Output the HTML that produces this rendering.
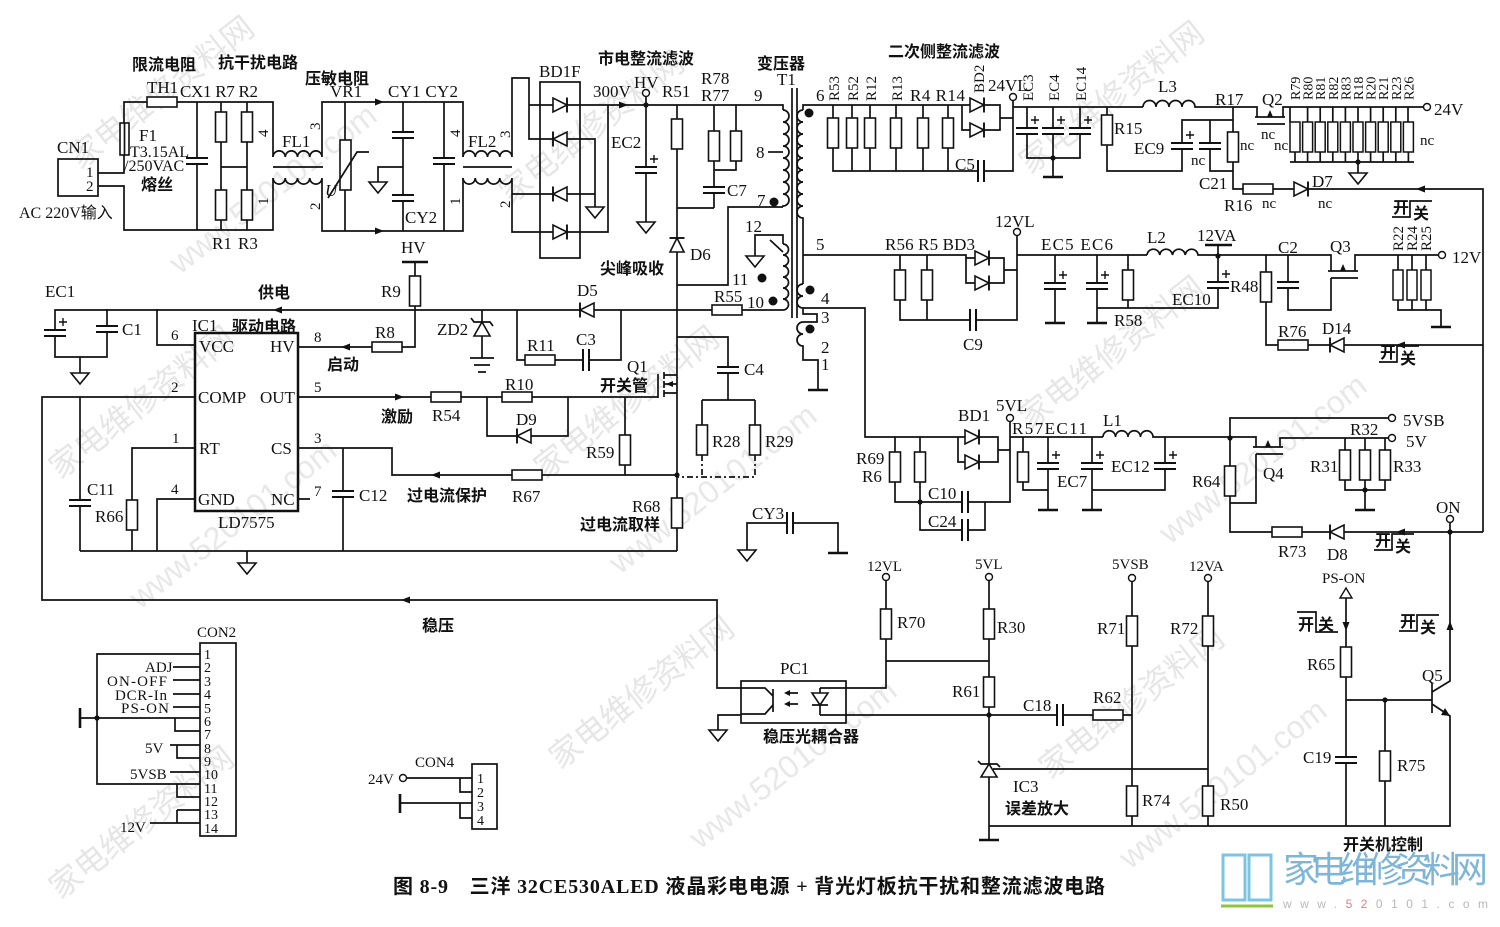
<!DOCTYPE html>
<html><head><meta charset="utf-8"><style>
html,body{margin:0;padding:0;background:#fff}
svg{display:block}
text{font-family:"Liberation Serif","Noto Sans CJK SC",serif;font-size:17px;fill:#111}
.c{font-family:"Liberation Serif","Noto Sans CJK SC",sans-serif;font-weight:700;font-size:16px}
.s{font-size:15px}
.w{fill:none;stroke:#111;stroke-width:1.7}
.wm{font-family:"Noto Sans CJK SC",sans-serif;font-size:32px;fill:#e6e6e6}
.wm2{font-family:"Liberation Sans",sans-serif;font-size:32px;fill:#e8e8e8}
</style></head><body>
<svg width="1500" height="927" viewBox="0 0 1500 927" xmlns="http://www.w3.org/2000/svg">
<defs>
<g id="rv"><rect x="-5.5" y="-15" width="11" height="30" fill="#fff" stroke="#111" stroke-width="1.6"/></g>
<g id="rh"><rect x="-15" y="-5" width="30" height="10" fill="#fff" stroke="#111" stroke-width="1.6"/></g>
<g id="cv"><rect x="-11" y="-3" width="22" height="6" fill="#fff"/><path d="M-11,-3H11M-11,3H11" stroke="#111" stroke-width="2"/></g>
<g id="ch"><rect x="-3" y="-11" width="6" height="22" fill="#fff"/><path d="M-3,-11V11M3,-11V11" stroke="#111" stroke-width="2"/></g>
<g id="ec"><rect x="-11" y="-3" width="22" height="6" fill="#fff"/><path d="M-11,-3H11M-11,3H11" stroke="#111" stroke-width="2"/><path d="M4,-11h8M8,-15v8" stroke="#111" stroke-width="1.4"/></g>
<g id="dr"><path d="M-7,-7V7L7,0Z" fill="#fff" stroke="#111" stroke-width="1.6"/><path d="M7,-7.5V7.5" stroke="#111" stroke-width="1.9"/></g>
<g id="gt"><path d="M-9,0H9L0,11Z" fill="#fff" stroke="#111" stroke-width="1.6"/></g>
<g id="gb"><path d="M-10,0H10" stroke="#111" stroke-width="2.6"/></g>
<g id="nd"><circle r="3.5" fill="#fff" stroke="#111" stroke-width="1.4"/></g>
<g id="dt"><circle r="2.6" fill="#111"/></g>
<g id="bd"><circle r="4.5" fill="#111"/></g>
<g id="ar"><path d="M-5,-3.5L4,0L-5,3.5Z" fill="#111"/></g>
</defs>

<!-- watermarks -->
<g>
<text class="wm" transform="translate(60,480) rotate(-38)">家电维修资料网</text>
<text class="wm2" transform="translate(140,610) rotate(-38)">www.520101.com</text>
<text class="wm" transform="translate(545,480) rotate(-38)">家电维修资料网</text>
<text class="wm2" transform="translate(620,575) rotate(-38)">www.520101.com</text>
<text class="wm" transform="translate(1030,430) rotate(-38)">家电维修资料网</text>
<text class="wm2" transform="translate(1170,545) rotate(-38)">www.520101.com</text>
<text class="wm" transform="translate(560,770) rotate(-38)">家电维修资料网</text>
<text class="wm2" transform="translate(700,850) rotate(-38)">www.520101.com</text>
<text class="wm" transform="translate(1050,780) rotate(-38)">家电维修资料网</text>
<text class="wm2" transform="translate(1130,870) rotate(-38)">www.520101.com</text>
<text class="wm" transform="translate(510,205) rotate(-38)">家电维修资料网</text>
<text class="wm" transform="translate(1030,175) rotate(-38)">家电维修资料网</text>
<text class="wm2" transform="translate(180,275) rotate(-38)">www.520101.com</text>
<text class="wm" transform="translate(80,170) rotate(-38)">家电维修资料网</text>
<text class="wm" transform="translate(60,900) rotate(-38)">家电维修资料网</text>
</g>

<!-- ===== INPUT SECTION ===== -->
<rect x="58" y="159" width="40" height="37" class="w"/>
<path class="w" d="M98,173H124V102H273V157M98,186H124V230H273V178"/>
<rect x="120" y="123" width="9" height="32" fill="#fff" stroke="#111" stroke-width="1.6"/>
<path class="w" d="M124.5,123V155"/>
<rect x="147" y="97" width="30" height="10" fill="#fff" stroke="#111" stroke-width="1.6"/>
<path class="w" d="M197,102V230M221,102V230M247,102V230M221,167H247"/>
<use href="#cv" x="197" y="161"/>
<use href="#rv" x="221" y="127"/><use href="#rv" x="221" y="205"/>
<use href="#rv" x="247" y="127"/><use href="#rv" x="247" y="205"/>
<!-- FL1 -->
<path class="w" d="M273,157a6.1,6.1 0 0 1 12.25,0a6.1,6.1 0 0 1 12.25,0a6.1,6.1 0 0 1 12.25,0a6.1,6.1 0 0 1 12.25,0V102H463V157"/>
<path class="w" d="M273,178a6.1,6.1 0 0 0 12.25,0a6.1,6.1 0 0 0 12.25,0a6.1,6.1 0 0 0 12.25,0a6.1,6.1 0 0 0 12.25,0V231H463V178"/>
<path class="w" d="M273,167H323" stroke-width="2"/>
<!-- VR1 -->
<path class="w" d="M345,102V231"/>
<rect x="340" y="140" width="11" height="50" fill="#fff" stroke="#111" stroke-width="1.6"/>
<path class="w" d="M328,198L357,152H369"/>
<!-- CY1 CY2 -->
<path class="w" d="M403,102V231M403,167H378V182M444,102V231"/>
<use href="#cv" x="403" y="135"/><use href="#cv" x="403" y="198"/><use href="#gt" x="378" y="182"/>
<use href="#cv" x="444" y="161"/>
<use href="#ar" x="380" y="102"/><use href="#ar" x="380" y="231"/>
<!-- FL2 -->
<path class="w" d="M463,157a6.1,6.1 0 0 1 12.25,0a6.1,6.1 0 0 1 12.25,0a6.1,6.1 0 0 1 12.25,0a6.1,6.1 0 0 1 12.25,0V78H529V139H595V207"/>
<path class="w" d="M463,178a6.1,6.1 0 0 0 12.25,0a6.1,6.1 0 0 0 12.25,0a6.1,6.1 0 0 0 12.25,0a6.1,6.1 0 0 0 12.25,0V232H608V105"/>
<path class="w" d="M463,167H512" stroke-width="2"/>
<path class="w" d="M512,194H595M529,105H778H783V110"/>
<rect x="540" y="82" width="40" height="176" class="w"/>
<use href="#dr" x="560" y="105"/>
<use href="#dr" transform="translate(560,139) rotate(180)"/>
<use href="#dr" transform="translate(560,194) rotate(180)"/>
<use href="#dr" x="560" y="232"/>
<use href="#gt" x="595" y="207"/>
<!-- EC2 HV -->
<path class="w" d="M646,96V222"/>
<use href="#ec" x="646" y="170"/><use href="#gt" x="646" y="222"/>
<use href="#nd" x="646" y="93"/><use href="#dt" x="646" y="105"/>
<use href="#ar" x="624" y="105"/>
<!-- R51 D6 R78 R77 C7 -->
<path class="w" d="M677,105V551M677,208H714M714,105V208M736,105V170H714M783,207H728V285H677"/>
<use href="#rv" x="677" y="134"/>
<use href="#dr" transform="translate(677,245) rotate(-90)"/>
<use href="#rv" x="714" y="146"/><use href="#rv" x="736" y="146"/>
<use href="#cv" x="714" y="190"/>
<!-- Transformer primary -->
<path class="w" d="M783,110a6,6 0 0 1 0,12a6,6 0 0 1 0,12a6,6 0 0 1 0,12a6,6 0 0 1 0,12a6,6 0 0 1 0,12a6,6 0 0 1 0,12a6,6 0 0 1 0,12a6,6 0 0 1 0,12V207"/>
<path class="w" d="M768,152H783"/>
<use href="#bd" x="774" y="202"/>
<path class="w" d="M792,88V318M797,88V318" stroke-width="1.9"/>
<!-- aux winding -->
<path class="w" d="M783,244V235H755V256"/>
<path class="w" d="M783,244a5.5,5.5 0 0 1 0,11a5.5,5.5 0 0 1 0,11a5.5,5.5 0 0 1 0,11a5.5,5.5 0 0 1 0,11a5.5,5.5 0 0 1 0,11a5.5,5.5 0 0 1 0,11"/>
<path class="w" d="M770,240L783,252"/>
<use href="#gt" x="755" y="256"/>
<use href="#bd" x="762" y="278"/><use href="#bd" x="773" y="301"/>
<!-- supply line -->
<path class="w" d="M783,310H55V357H107V309M80,357V373M195,345H157V309"/>
<use href="#ec" x="55" y="333"/><use href="#cv" x="107" y="329"/><use href="#gt" x="80" y="373"/>
<use href="#ar" transform="translate(277,310) rotate(180)"/>
<use href="#rh" x="727" y="310"/>
<use href="#dr" transform="translate(587,310) rotate(180)"/>
<path class="w" d="M517,310V360H621V310"/>
<use href="#rh" x="540" y="360"/><use href="#ch" x="586" y="360"/>
<!-- R9 R8 -->
<path d="M402,262H428" stroke="#111" stroke-width="2.6"/>
<path class="w" d="M415,262V347H298"/>
<use href="#rv" x="415" y="291"/><use href="#rh" x="387" y="347"/>
<use href="#ar" transform="translate(345,347) rotate(180)"/>
<!-- ZD2 -->
<path class="w" d="M482,310V358M470,358H494M474,365H490M478,372H486"/>
<path d="M474,336H490L482,322Z" fill="#fff" stroke="#111" stroke-width="1.6"/>
<path class="w" d="M471,318L474,322H490L493,326"/>
<!-- IC1 -->
<rect x="195" y="333" width="103" height="178" fill="none" stroke="#111" stroke-width="2.5"/>
<path class="w" d="M195,397H42V600H717V688H741M80,397V551M195,448H132V551M195,499H157V551M80,551H677M247,551V563"/>
<use href="#cv" x="80" y="503"/><use href="#rv" x="132" y="515"/><use href="#gt" x="247" y="563"/>
<path class="w" d="M298,448H392V475H677M343,448V551M298,499H310"/>
<use href="#cv" x="343" y="494"/>
<use href="#ar" transform="translate(435,475) rotate(180)"/>
<use href="#rh" x="527" y="475"/>
<use href="#ar" transform="translate(405,600) rotate(180)"/>
<!-- OUT drive -->
<path class="w" d="M298,397H658M487,397V436H568V397M625,397V475"/>
<use href="#ar" x="400" y="397"/>
<use href="#rh" x="446" y="397"/><use href="#rh" x="517" y="397"/>
<use href="#dr" transform="translate(524,436) rotate(180)"/>
<use href="#rv" x="625" y="450"/>
<!-- Q1 -->
<path class="w" d="M658,374V398" stroke-width="2"/>
<path class="w" d="M664,372V379M664,381V388M664,390V397" stroke-width="2"/>
<path class="w" d="M664,375H677M664,393H677M664,384H677"/>
<path d="M666,384L673,381V387Z" fill="#111"/>
<use href="#dt" x="677" y="475"/>
<use href="#rv" x="677" y="513"/>
<!-- C4 R28 R29 -->
<path class="w" d="M677,337H728V400M702,400H755M702,400V440M755,400V440"/>
<use href="#cv" x="728" y="370"/>
<use href="#rv" x="702" y="440"/><use href="#rv" x="755" y="440"/>
<path class="w" d="M702,455V477M755,455V477H677" stroke-dasharray="6,3,2,3"/>
<!-- CY3 -->
<path class="w" d="M747,550V523H838V553"/>
<use href="#ch" x="790" y="523"/><use href="#gt" x="747" y="550"/><use href="#gb" x="838" y="553"/>

<!-- ===== SECONDARY 24V ===== -->
<path class="w" d="M803,110a6,6 0 0 0 0,12a6,6 0 0 0 0,12a6,6 0 0 0 0,12a6,6 0 0 0 0,12a6,6 0 0 0 0,12a6,6 0 0 0 0,12a6,6 0 0 0 0,12a6,6 0 0 0 0,12a6,6 0 0 0 0,12V284"/>
<path class="w" d="M803,110V105H962V130H970M962,105H970"/>
<use href="#bd" x="809" y="113"/>
<path class="w" d="M833,105V171H977M852,105V171M870,105V171M896,105V171M923,105V171M948,105V171M985,171H1013V101"/>
<use href="#rv" x="833" y="133"/><use href="#rv" x="852" y="133"/><use href="#rv" x="870" y="133"/>
<use href="#rv" x="896" y="133"/><use href="#rv" x="923" y="133"/><use href="#rv" x="948" y="133"/>
<use href="#ch" x="981" y="171"/>
<use href="#dr" x="977" y="105"/><use href="#dr" x="977" y="130"/>
<path class="w" d="M984,105H1000V130H984M1000,118H1013"/>
<use href="#nd" x="1013" y="97"/>
<path class="w" d="M1013,107H1143M1027,107V158H1080V107M1053,107V177"/>
<use href="#ec" x="1027" y="131"/><use href="#ec" x="1053" y="131"/><use href="#ec" x="1080" y="131"/>
<use href="#dt" x="1053" y="158"/><use href="#gb" x="1053" y="177"/>
<path class="w" d="M1107,107V171H1182V120H1233M1210,120V171H1233"/>
<use href="#rv" x="1107" y="130"/><use href="#ec" x="1182" y="146"/><use href="#cv" x="1210" y="146"/>
<path class="w" d="M1143,107a6.5,6.5 0 0 1 13,0a6.5,6.5 0 0 1 13,0a6.5,6.5 0 0 1 13,0a6.5,6.5 0 0 1 13,0H1257V117M1283,117V107H1427"/>
<path class="w" d="M1255,117H1285M1257,124H1285" stroke-width="2"/>
<path d="M1270,110L1267,117H1273Z" fill="#111"/>
<path class="w" d="M1233,107V189H1243M1273,189H1483V532"/>
<use href="#rv" x="1233" y="147"/><use href="#rh" x="1258" y="189"/><use href="#dr" x="1301" y="189"/>
<use href="#ar" transform="translate(1420,189) rotate(180)"/>
<path class="w" d="M1290,107V122M1408,107V122M1290,162H1414M1358,162V173"/>
<g fill="#fff" stroke="#111" stroke-width="1.5">
<rect x="1290" y="122" width="10" height="30"/><rect x="1302.6" y="122" width="10" height="30"/><rect x="1315.2" y="122" width="10" height="30"/><rect x="1327.8" y="122" width="10" height="30"/><rect x="1340.4" y="122" width="10" height="30"/><rect x="1353" y="122" width="10" height="30"/><rect x="1365.6" y="122" width="10" height="30"/><rect x="1378.2" y="122" width="10" height="30"/><rect x="1390.8" y="122" width="10" height="30"/><rect x="1403.4" y="122" width="10" height="30"/>
</g>
<path class="w" d="M1295,152V162M1307.6,152V162M1320.2,152V162M1332.8,152V162M1345.4,152V162M1358,152V162M1370.6,152V162M1383.2,152V162M1395.8,152V162M1408.4,152V162M1307.6,107V122M1320.2,107V122M1332.8,107V122M1345.4,107V122M1358,107V122M1370.6,107V122M1383.2,107V122M1395.8,107V122"/>
<use href="#dt" x="1358" y="162"/><use href="#gt" x="1358" y="173"/>
<use href="#nd" x="1427" y="107"/>

<!-- ===== 12V ===== -->
<path class="w" d="M803,255H966V283H975M966,258H975M900,255V320H970M927,255V320M976,320H1017V236M989,258H1004V283H989M1004,270H1017M1017,255H1147"/>
<use href="#rv" x="900" y="285"/><use href="#rv" x="927" y="285"/>
<use href="#dr" x="982" y="258"/><use href="#dr" x="982" y="283"/>
<use href="#ch" x="973" y="320"/>
<use href="#nd" x="1017" y="232"/>
<path class="w" d="M1055,255V323M1097,255V323M1128,255V308M1097,308H1218V255"/>
<use href="#ec" x="1055" y="286"/><use href="#ec" x="1097" y="286"/><use href="#rv" x="1128" y="285"/>
<use href="#gb" x="1055" y="323"/><use href="#gb" x="1097" y="323"/>
<use href="#ec" x="1218" y="285"/>
<path class="w" d="M1147,255a6.4,6.4 0 0 1 12.75,0a6.4,6.4 0 0 1 12.75,0a6.4,6.4 0 0 1 12.75,0a6.4,6.4 0 0 1 12.75,0H1331V271M1355,271V255H1438"/>
<path d="M1205,245H1232" stroke="#111" stroke-width="2.6"/>
<path class="w" d="M1218,245V255"/><use href="#dt" x="1218" y="256"/>
<path class="w" d="M1266,255V345H1278M1288,255V310H1331V278"/>
<use href="#rv" x="1266" y="287"/><use href="#cv" x="1288" y="285"/>
<path class="w" d="M1328,271H1358M1331,278H1358" stroke-width="2"/>
<path d="M1343,264L1340,271H1346Z" fill="#111"/>
<path class="w" d="M1398,255V310H1441V327M1412,255V310M1426,255V310"/>
<g fill="#fff" stroke="#111" stroke-width="1.5"><rect x="1393" y="270" width="10" height="30"/><rect x="1407" y="270" width="10" height="30"/><rect x="1421" y="270" width="10" height="30"/></g>
<use href="#gb" x="1441" y="327"/>
<use href="#nd" x="1442" y="255"/>
<path class="w" d="M1308,345H1483"/>
<use href="#rh" x="1293" y="345"/>
<use href="#dr" transform="translate(1337,345) rotate(180)"/>
<use href="#ar" transform="translate(1400,345) rotate(180)"/>

<!-- lower secondary -->
<path class="w" d="M803,284a6,6 0 0 0 0,12a6,6 0 0 0 0,12V314H817V322H803"/>
<path class="w" d="M803,322a6,6 0 0 0 0,12a6,6 0 0 0 0,12V360H818V390M803,308H865V437H958"/>
<use href="#bd" x="810" y="290"/><use href="#bd" x="810" y="329"/>
<use href="#gb" x="818" y="390"/>

<!-- ===== 5V ===== -->
<path class="w" d="M895,437V502H962M920,437V530H962M968,502H1010V422M968,530H985V502M958,437V462H965M958,437H965M979,437H998V462H979M998,450H1010M1010,437H1103"/>
<use href="#rv" x="895" y="467"/><use href="#rv" x="920" y="467"/><use href="#dt" x="920" y="502"/>
<use href="#ch" x="965" y="502"/><use href="#ch" x="965" y="530"/>
<use href="#dr" x="972" y="437"/><use href="#dr" x="972" y="462"/>
<use href="#nd" x="1010" y="418"/>
<path class="w" d="M1023,437V490H1048M1048,437V510M1092,437V510M1092,490H1165V437"/>
<use href="#rv" x="1023" y="467"/><use href="#ec" x="1048" y="466"/><use href="#ec" x="1092" y="466"/><use href="#ec" x="1165" y="466"/>
<use href="#gb" x="1048" y="510"/><use href="#gb" x="1092" y="510"/>
<path class="w" d="M1103,437a6.25,6.25 0 0 1 12.5,0a6.25,6.25 0 0 1 12.5,0a6.25,6.25 0 0 1 12.5,0a6.25,6.25 0 0 1 12.5,0H1256V447M1230,438V418H1388M1280,447V438H1388"/>
<use href="#dt" x="1230" y="438"/>
<path class="w" d="M1253,447H1283M1256,454H1283" stroke-width="2"/>
<path d="M1268,440L1265,447H1271Z" fill="#111"/>
<path class="w" d="M1256,454V503H1230M1230,438V532H1272M1302,532H1483"/>
<use href="#rv" x="1230" y="481"/><use href="#rh" x="1287" y="532"/>
<use href="#dr" transform="translate(1337,532) rotate(180)"/>
<use href="#ar" transform="translate(1400,532) rotate(180)"/>
<use href="#nd" x="1392" y="418"/><use href="#nd" x="1392" y="438"/>
<path class="w" d="M1345,438V490H1385V438M1365,438V510"/>
<use href="#rv" x="1345" y="465"/><use href="#rv" x="1365" y="465"/><use href="#rv" x="1385" y="465"/>
<use href="#dt" x="1365" y="490"/><use href="#gb" x="1365" y="510"/>
<path class="w" d="M1450,523V532"/>
<use href="#nd" x="1450" y="519"/><use href="#dt" x="1450" y="532"/>

<!-- ===== Q5 / PS-ON ===== -->
<path class="w" d="M1450,532V681L1432,692M1432,704L1450,716V826H989M1346,598V826M1346,700H1432M1385,700V826"/>
<path class="w" d="M1432,683V713" stroke-width="2.4"/>
<path d="M1450,716L1441,715L1445,708Z" fill="#111"/>
<use href="#ar" transform="translate(1450,625) rotate(-90)"/>
<use href="#ar" transform="translate(1346,627) rotate(90)"/>
<path d="M1340,598L1346,588L1352,598Z" fill="#fff" stroke="#111" stroke-width="1.4"/>
<use href="#rv" x="1346" y="662"/><use href="#cv" x="1346" y="760"/><use href="#rv" x="1385" y="766"/>
<use href="#dt" x="1385" y="700"/>

<!-- ===== feedback ===== -->
<path class="w" d="M886,581V688H820M886,661H989M989,581V840"/>
<use href="#nd" x="886" y="577"/><use href="#nd" x="989" y="577"/>
<use href="#rv" x="886" y="624"/><use href="#rv" x="989" y="624"/><use href="#rv" x="989" y="692"/>
<use href="#dt" x="989" y="715"/><use href="#gb" x="989" y="840"/>
<path class="w" d="M820,715H1057M1063,715H1132M993,769H1208"/>
<use href="#ch" x="1060" y="715"/><use href="#rh" x="1108" y="715"/>
<path d="M981,777H997L989,764Z" fill="#fff" stroke="#111" stroke-width="1.6"/>
<path class="w" d="M978,761L981,764H997L1000,767"/>
<path class="w" d="M1132,582V826M1208,582V826"/>
<use href="#nd" x="1132" y="578"/><use href="#nd" x="1208" y="578"/>
<use href="#rv" x="1132" y="631"/><use href="#rv" x="1132" y="801"/>
<use href="#rv" x="1208" y="631"/><use href="#rv" x="1208" y="801"/>
<!-- PC1 -->
<rect x="741" y="681" width="105" height="42" class="w"/>
<path class="w" d="M741,688H765L773,696M773,705L765,714H741M741,715H718V730"/>
<path class="w" d="M773,689V712" stroke-width="2"/>
<use href="#gt" x="718" y="730"/>
<path class="w" d="M786,693H798M786,704H798"/>
<path d="M784,693L790,690V696Z M784,704L790,701V707Z" fill="#111"/>
<path d="M812,693H828L820,705Z" fill="#fff" stroke="#111" stroke-width="1.6"/>
<path class="w" d="M812,705H828M820,688V693M820,705V715"/>

<!-- ===== CON2 ===== -->
<rect x="200" y="643" width="36" height="193" class="w"/>
<path class="w" d="M200,654H97V784H200M175,718H200M175,718V731H200M173,667H200M173,680H200M173,694H200M173,707H200M170,745H200M177,745V758H200M170,772H200M177,784V797H200M177,810H200M177,810V823H200M150,823H200M97,718H175"/>
<path d="M80,708V728" stroke="#111" stroke-width="2.6"/><path class="w" d="M80,718H97"/>
<use href="#dt" x="97" y="718"/>
<g>
<text x="204" y="659" style="font-size:14px">1</text><text x="204" y="672" style="font-size:14px">2</text><text x="204" y="686" style="font-size:14px">3</text><text x="204" y="699" style="font-size:14px">4</text><text x="204" y="713" style="font-size:14px">5</text><text x="204" y="726" style="font-size:14px">6</text><text x="204" y="739" style="font-size:14px">7</text><text x="204" y="753" style="font-size:14px">8</text><text x="204" y="766" style="font-size:14px">9</text><text x="204" y="779" style="font-size:14px">10</text><text x="204" y="793" style="font-size:14px">11</text><text x="204" y="806" style="font-size:14px">12</text><text x="204" y="819" style="font-size:14px">13</text><text x="204" y="833" style="font-size:14px">14</text>
</g>
<text x="145" y="672" class="s">ADJ</text>
<text x="107" y="686" class="s" textLength="60">ON-OFF</text>
<text x="115" y="700" class="s" textLength="52">DCR-In</text>
<text x="121" y="713" class="s" textLength="48">PS-ON</text>
<text x="145" y="753" class="s">5V</text>
<text x="130" y="779" class="s">5VSB</text>
<text x="120" y="832" class="s">12V</text>
<text x="197" y="637" class="s">CON2</text>
<!-- CON4 -->
<rect x="472" y="764" width="25" height="65" class="w"/>
<path class="w" d="M407,778H472M460,778V792H472M400,803H472M460,803V818H472"/>
<path d="M400,794V813" stroke="#111" stroke-width="2.6"/>
<use href="#nd" x="403" y="778"/>
<text x="477" y="783" style="font-size:14px">1</text><text x="477" y="797" style="font-size:14px">2</text><text x="477" y="811" style="font-size:14px">3</text><text x="477" y="825" style="font-size:14px">4</text>
<text x="415" y="767" class="s">CON4</text>
<text x="368" y="784" class="s">24V</text>

<!-- ===== LABELS ===== -->
<text x="57" y="153">CN1</text>
<text x="86" y="177" class="s">1</text><text x="86" y="191" class="s">2</text>
<text x="19" y="218" style="font-size:16px">AC 220V输入</text>
<text x="147" y="93">TH1</text>
<text x="139" y="141">F1</text>
<text x="130" y="157" style="font-size:16px">T3.15AL</text>
<text x="124" y="171" style="font-size:16px">/250VAC</text>
<text x="141" y="190" class="c">熔丝</text>
<text x="180" y="97" textLength="78">CX1 R7 R2</text>
<text x="212" y="249">R1</text><text x="238" y="249">R3</text>
<text transform="translate(268,137) rotate(-90)" class="s">4</text>
<text transform="translate(268,205) rotate(-90)" class="s">1</text>
<text x="282" y="147">FL1</text>
<text transform="translate(320,130) rotate(-90)" class="s">3</text>
<text transform="translate(320,210) rotate(-90)" class="s">2</text>
<text x="330" y="97">VR1</text>
<text x="325" y="196" font-style="italic">U</text>
<text x="388" y="97" textLength="70">CY1 CY2</text>
<text x="405" y="223">CY2</text>
<text transform="translate(460,137) rotate(-90)" class="s">4</text>
<text transform="translate(460,205) rotate(-90)" class="s">1</text>
<text x="468" y="147">FL2</text>
<text transform="translate(510,138) rotate(-90)" class="s">3</text>
<text transform="translate(510,208) rotate(-90)" class="s">2</text>
<text x="539" y="77">BD1F</text>
<text x="593" y="97">300V</text>
<text x="634" y="88">HV</text>
<text x="611" y="148">EC2</text>
<text x="662" y="97">R51</text>
<text x="701" y="84">R78</text>
<text x="701" y="101">R77</text>
<text x="754" y="101">9</text>
<text x="777" y="85">T1</text>
<text x="756" y="158">8</text>
<text x="727" y="196">C7</text>
<text x="757" y="206">7</text>
<text x="690" y="260">D6</text>
<text x="745" y="232">12</text>
<text x="732" y="285">11</text>
<text x="747" y="308">10</text>
<text x="816" y="101">6</text>
<text transform="translate(839,101) rotate(-90)" class="s">R53</text>
<text transform="translate(858,101) rotate(-90)" class="s">R52</text>
<text transform="translate(876,101) rotate(-90)" class="s">R12</text>
<text transform="translate(902,101) rotate(-90)" class="s">R13</text>
<text x="910" y="101" textLength="55">R4 R14</text>
<text transform="translate(984,93) rotate(-90)" class="s">BD2</text>
<text x="988" y="91">24VL</text>
<text x="955" y="170">C5</text>
<text transform="translate(1033,101) rotate(-90)" class="s">EC3</text>
<text transform="translate(1059,101) rotate(-90)" class="s">EC4</text>
<text transform="translate(1086,101) rotate(-90)" class="s">EC14</text>
<text x="1158" y="92">L3</text>
<text x="1114" y="134">R15</text>
<text x="1134" y="154">EC9</text>
<text x="1215" y="105">R17</text>
<text x="1262" y="105">Q2</text>
<text x="1199" y="189">C21</text>
<text x="1191" y="165" class="s">nc</text>
<text x="1240" y="150" class="s">nc</text>
<text x="1261" y="139" class="s">nc</text>
<text x="1274" y="150" class="s">nc</text>
<text x="1224" y="211">R16</text>
<text x="1262" y="208" class="s">nc</text>
<text x="1312" y="187">D7</text>
<text x="1318" y="208" class="s">nc</text>
<text x="1420" y="145" class="s">nc</text>
<text x="1434" y="115">24V</text>
<g>
<text transform="translate(1300,100) rotate(-90)" style="font-size:14px">R79</text>
<text transform="translate(1312.6,100) rotate(-90)" style="font-size:14px">R80</text>
<text transform="translate(1325.2,100) rotate(-90)" style="font-size:14px">R81</text>
<text transform="translate(1337.8,100) rotate(-90)" style="font-size:14px">R82</text>
<text transform="translate(1350.4,100) rotate(-90)" style="font-size:14px">R83</text>
<text transform="translate(1363,100) rotate(-90)" style="font-size:14px">R18</text>
<text transform="translate(1375.6,100) rotate(-90)" style="font-size:14px">R20</text>
<text transform="translate(1388.2,100) rotate(-90)" style="font-size:14px">R21</text>
<text transform="translate(1400.8,100) rotate(-90)" style="font-size:14px">R23</text>
<text transform="translate(1413.4,100) rotate(-90)" style="font-size:14px">R26</text>
</g>
<text x="816" y="250">5</text>
<text x="885" y="250" textLength="90">R56 R5 BD3</text>
<text x="995" y="227">12VL</text>
<text x="963" y="350">C9</text>
<text x="1041" y="250" textLength="72">EC5 EC6</text>
<text x="1147" y="243">L2</text>
<text x="1197" y="241">12VA</text>
<text x="1114" y="326">R58</text>
<text x="1172" y="305">EC10</text>
<text x="1230" y="292">R48</text>
<text x="1278" y="253">C2</text>
<text x="1330" y="252">Q3</text>
<text transform="translate(1403,251) rotate(-90)" class="s">R22</text>
<text transform="translate(1417,251) rotate(-90)" class="s">R24</text>
<text transform="translate(1431,251) rotate(-90)" class="s">R25</text>
<text x="1452" y="263">12V</text>
<text x="1278" y="337">R76</text>
<text x="1322" y="334">D14</text>
<text x="821" y="304">4</text>
<text x="821" y="323">3</text>
<text x="821" y="353">2</text>
<text x="821" y="370">1</text>
<text x="958" y="421">BD1</text>
<text x="996" y="411">5VL</text>
<text x="1012" y="434" textLength="75">R57EC11</text>
<text x="1103" y="426">L1</text>
<text x="1057" y="487">EC7</text>
<text x="1111" y="472">EC12</text>
<text x="856" y="464">R69</text>
<text x="862" y="482">R6</text>
<text x="928" y="499">C10</text>
<text x="928" y="527">C24</text>
<text x="1192" y="487">R64</text>
<text x="1263" y="479">Q4</text>
<text x="1350" y="435">R32</text>
<text x="1403" y="426">5VSB</text>
<text x="1406" y="447">5V</text>
<text x="1310" y="472">R31</text>
<text x="1393" y="472">R33</text>
<text x="1436" y="513">ON</text>
<text x="1278" y="557">R73</text>
<text x="1327" y="560">D8</text>
<text x="45" y="297">EC1</text>
<text x="122" y="335">C1</text>
<text x="437" y="335">ZD2</text>
<text x="401" y="253">HV</text>
<text x="381" y="297">R9</text>
<text x="375" y="338">R8</text>
<text x="314" y="342" class="s">8</text>
<text x="192" y="331">IC1</text>
<text x="577" y="296">D5</text>
<text x="714" y="302">R55</text>
<text x="527" y="351">R11</text>
<text x="576" y="345">C3</text>
<text x="627" y="372">Q1</text>
<text x="744" y="375">C4</text>
<text x="505" y="390">R10</text>
<text x="516" y="425">D9</text>
<text x="586" y="458">R59</text>
<text x="712" y="447">R28</text>
<text x="765" y="447">R29</text>
<text x="432" y="421">R54</text>
<text x="512" y="502">R67</text>
<text x="632" y="512">R68</text>
<text x="87" y="495">C11</text>
<text x="95" y="522">R66</text>
<text x="359" y="501">C12</text>
<text x="218" y="528">LD7575</text>
<text x="752" y="519">CY3</text>
<text x="199" y="352">VCC</text><text x="270" y="352">HV</text>
<text x="198" y="403">COMP</text><text x="260" y="403">OUT</text>
<text x="199" y="454">RT</text><text x="271" y="454">CS</text>
<text x="198" y="505">GND</text><text x="271" y="505">NC</text>
<text x="171" y="340" class="s">6</text><text x="171" y="392" class="s">2</text>
<text x="172" y="443" class="s">1</text><text x="171" y="494" class="s">4</text>
<text x="314" y="392" class="s">5</text><text x="314" y="443" class="s">3</text>
<text x="314" y="496" class="s">7</text>
<text x="867" y="571" class="s">12VL</text>
<text x="975" y="569" class="s">5VL</text>
<text x="897" y="628">R70</text>
<text x="997" y="633">R30</text>
<text x="780" y="674">PC1</text>
<text x="952" y="697">R61</text>
<text x="1023" y="711">C18</text>
<text x="1093" y="703">R62</text>
<text x="1013" y="792">IC3</text>
<text x="1112" y="569" class="s">5VSB</text>
<text x="1189" y="571" class="s">12VA</text>
<text x="1097" y="634">R71</text>
<text x="1170" y="634">R72</text>
<text x="1142" y="806">R74</text>
<text x="1220" y="810">R50</text>
<text x="1322" y="583" class="s">PS-ON</text>
<text x="1307" y="670">R65</text>
<text x="1422" y="681">Q5</text>
<text x="1303" y="763">C19</text>
<text x="1397" y="771">R75</text>

<!-- Chinese labels -->
<text x="132" y="70" class="c">限流电阻</text>
<text x="218" y="68" class="c">抗干扰电路</text>
<text x="305" y="84" class="c">压敏电阻</text>
<text x="598" y="64" class="c">市电整流滤波</text>
<text x="757" y="69" class="c">变压器</text>
<text x="888" y="57" class="c">二次侧整流滤波</text>
<text x="600" y="274" class="c">尖峰吸收</text>
<text x="258" y="298" class="c">供电</text>
<text x="232" y="332" class="c">驱动电路</text>
<text x="327" y="370" class="c">启动</text>
<text x="381" y="422" class="c">激励</text>
<text x="407" y="501" class="c">过电流保护</text>
<text x="580" y="530" class="c">过电流取样</text>
<text x="600" y="391" class="c">开关管</text>
<text x="422" y="631" class="c">稳压</text>
<text x="763" y="742" class="c">稳压光耦合器</text>
<text x="1005" y="814" class="c">误差放大</text>
<text x="1343" y="850" class="c">开关机控制</text>
<!-- 开关 symbols -->
<g><text x="1393" y="213" class="c">开</text><text x="1413" y="219" class="c">关</text><path class="w" d="M1392,217H1410V201H1432"/></g>
<g><text x="1380" y="358" class="c">开</text><text x="1400" y="364" class="c">关</text><path class="w" d="M1379,362H1397V346H1419"/></g>
<g><text x="1375" y="546" class="c">开</text><text x="1395" y="552" class="c">关</text><path class="w" d="M1374,550H1392V534H1414"/></g>
<g><text x="1400" y="627" class="c">开</text><text x="1420" y="633" class="c">关</text><path class="w" d="M1399,631H1417V615H1439"/></g>
<g><text x="1298" y="630" class="c">开</text><text x="1318" y="630" class="c">关</text><path class="w" d="M1297,612H1316V632H1338"/></g>

<!-- caption -->
<text x="393" y="893" style="font-family:'Liberation Serif','Noto Sans CJK SC',sans-serif;font-weight:700;font-size:20px" textLength="712">图 8-9　三洋 32CE530ALED 液晶彩电电源 + 背光灯板抗干扰和整流滤波电路</text>

<!-- logo -->
<g fill="none" stroke="#7cc4e0" stroke-width="3">
<path d="M1223,855H1245V900H1223Z"/><path d="M1249,855H1271V900H1249Z"/>
</g>
<path d="M1221,906H1273" stroke="#8cc63e" stroke-width="3"/>
<text x="1283" y="882" textLength="205" style="font-family:'Noto Sans CJK SC',sans-serif;font-size:36px;fill:#7fb6d8">家电维修资料网</text>
<text x="1283" y="908" textLength="205" style="font-family:'Liberation Sans',sans-serif;font-size:12px;fill:#b8b8b8">www.<tspan style="fill:#e08080">52</tspan>0101.com</text>
</svg>
</body></html>
